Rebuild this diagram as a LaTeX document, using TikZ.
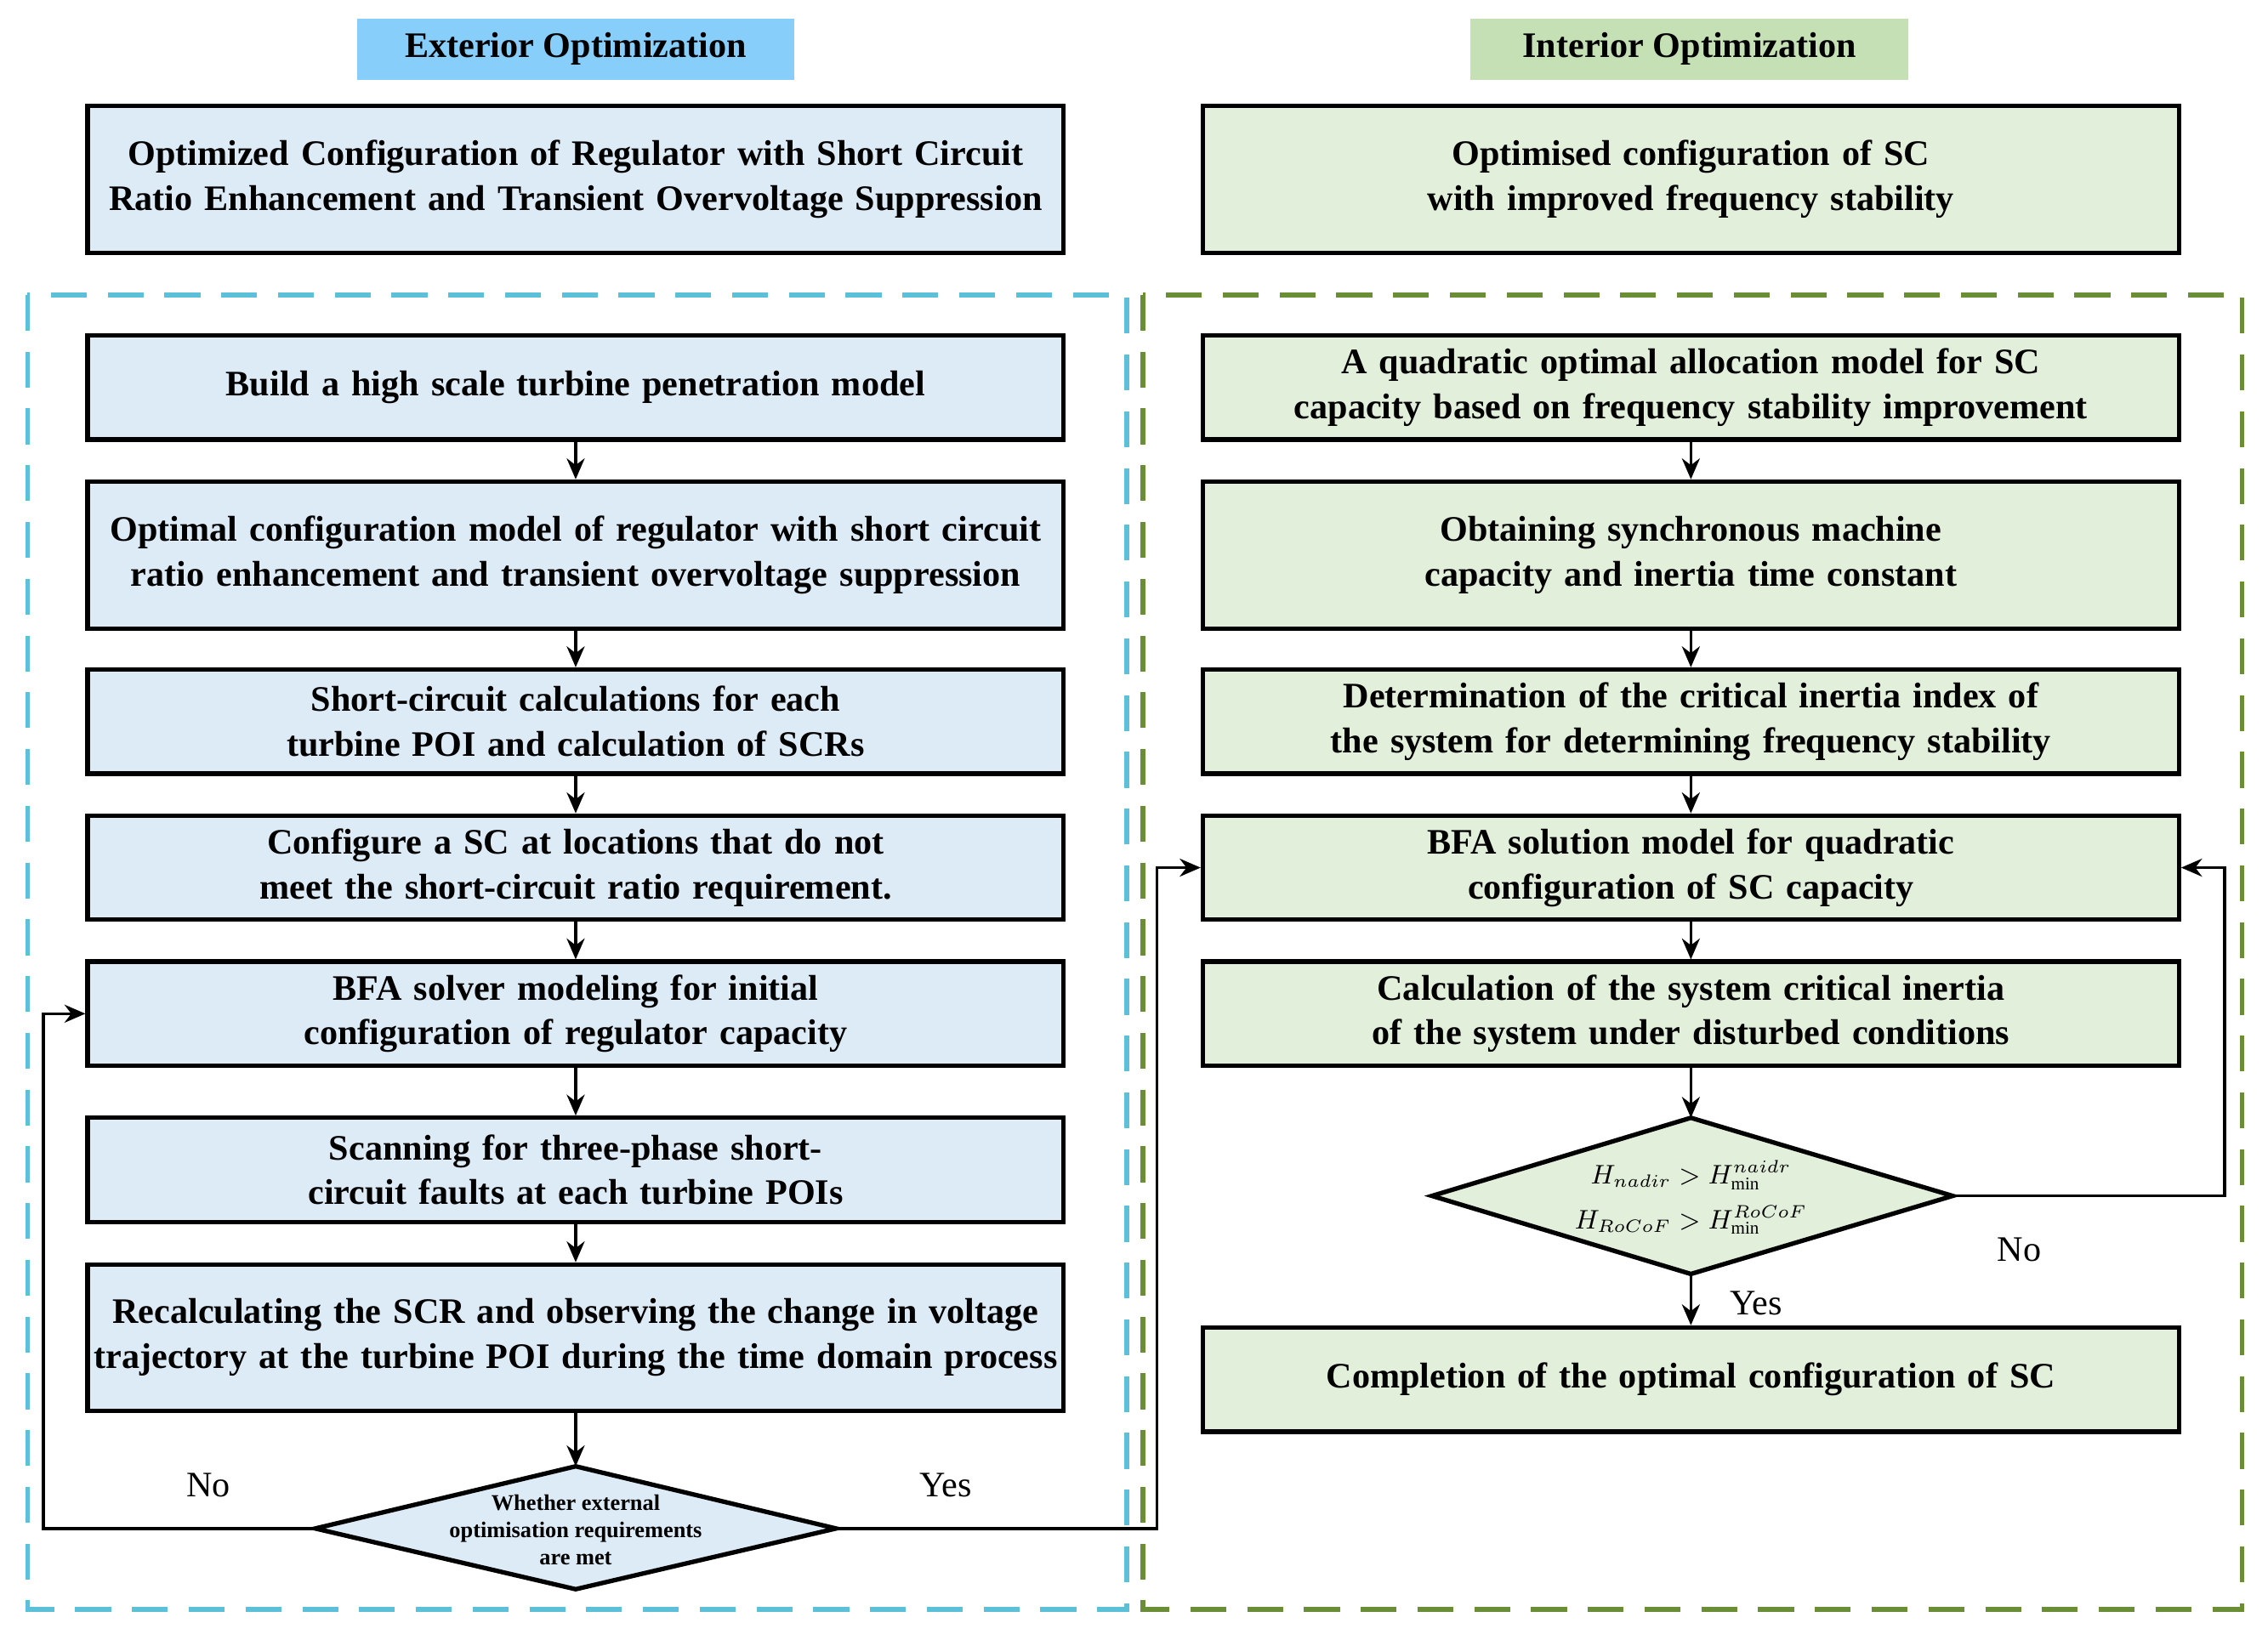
\documentclass[tikz,border=0pt]{standalone}
\usepackage{fontspec}
\setmainfont{Liberation Serif}
\usetikzlibrary{shapes.geometric,arrows.meta}
\definecolor{hdrblue}{HTML}{87CEFA}
\definecolor{boxblue}{HTML}{DDEBF7}
\definecolor{hdrgreen}{HTML}{C5E0B4}
\definecolor{boxgreen}{HTML}{E2EFDA}
\definecolor{dashblue}{HTML}{5BC0D8}
\definecolor{dashgreen}{HTML}{6A8E35}
\tikzset{stage/.style={draw, line width=1.5pt, minimum width=11.48cm, text width=11.35cm, align=center, inner sep=1pt, font=\fontsize{12}{15}\selectfont\bfseries, execute at begin node={\hyphenpenalty=10000\exhyphenpenalty=0}}}
\tikzset{lbox/.style={stage, fill=boxblue}}
\tikzset{rbox/.style={stage, fill=boxgreen}}
\tikzset{hdr/.style={minimum width=5.15cm, minimum height=0.72cm, font=\fontsize{12}{15}\selectfont\bfseries}}
\tikzset{decide/.style={draw, line width=1.5pt}}
\tikzset{flow/.style={-{Stealth[length=7pt,width=6pt]}, line width=1pt}}
\tikzset{zone/.style={dashed, dash pattern=on 12pt off 7pt, line width=1.6pt}}
\tikzset{lbl/.style={font=\fontsize{12}{15}\selectfont}}
\begin{document}
\begin{tikzpicture}[x=0.01701cm,y=-0.01701cm]
\useasboundingbox (0,0) rectangle (1568,1134);
% headers
\node[hdr, fill=hdrblue] (hl) at (398,34) {Exterior Optimization};
\node[hdr, fill=hdrgreen] (hr) at (1168,34) {Interior Optimization};
\node[lbox, minimum height=1.735cm] (tl) at (398,124) {Optimized Configuration of Regulator with Short Circuit Ratio Enhancement and Transient Overvoltage Suppression};
\node[rbox, minimum height=1.735cm] (tr) at (1169,124) {Optimised configuration of SC with improved frequency stability};
% dashed zones
\draw[zone, dashblue] (19,204) rectangle (779,1113);
\draw[zone, dashgreen] (790,204) rectangle (1550,1113);

% exterior column
\node[lbox, minimum height=1.225cm] (l1) at (398,268) {Build a high scale turbine penetration model};
\node[lbox, minimum height=1.735cm] (l2) at (398,384) {Optimal configuration model of regulator with short circuit ratio enhancement and transient overvoltage suppression};
\node[lbox, minimum height=1.225cm] (l3) at (398,499) {Short-circuit calculations for each turbine POI and calculation of SCRs};
\node[lbox, minimum height=1.225cm] (l4) at (398,600) {Configure a SC at locations that do not meet the short-circuit ratio requirement.};
\node[lbox, minimum height=1.225cm] (l5) at (398,701) {BFA solver modeling for initial configuration of regulator capacity};
\node[lbox, minimum height=1.225cm] (l6) at (398,809) {Scanning for three-phase short-circuit faults at each turbine POIs};
\node[lbox, minimum height=1.72cm] (l7) at (398,925) {Recalculating the SCR and observing the change in voltage trajectory at the turbine POI during the time domain process};
% exterior decision
\coordinate (ldW) at (218,1057);
\coordinate (ldN) at (398,1014);
\coordinate (ldE) at (578,1057);
\coordinate (ldS) at (398,1099);
\draw[decide, fill=boxblue] (ldW) -- (ldN) -- (ldE) -- (ldS) -- cycle;
\node[align=center, font=\fontsize{7.5}{9}\selectfont\bfseries] (ld) at (398,1058) {Whether external\\optimisation requirements\\are met};

% interior column
\node[rbox, minimum height=1.225cm] (r1) at (1169,268) {A quadratic optimal allocation model for SC capacity based on frequency stability improvement};
\node[rbox, minimum height=1.735cm] (r2) at (1169,384) {Obtaining synchronous machine capacity and inertia time constant};
\node[rbox, minimum height=1.225cm] (r3) at (1169,499) {Determination of the critical inertia index of the system for determining frequency stability};
\node[rbox, minimum height=1.225cm] (r4) at (1169,600) {BFA solution model for quadratic configuration of SC capacity};
\node[rbox, minimum height=1.225cm] (r5) at (1169,701) {Calculation of the system critical inertia of the system under disturbed conditions};
% interior decision
\coordinate (rdW) at (990,827);
\coordinate (rdN) at (1169,773);
\coordinate (rdE) at (1350,827);
\coordinate (rdS) at (1169,881);
\draw[decide, fill=boxgreen] (rdW) -- (rdN) -- (rdE) -- (rdS) -- cycle;
\node[align=center, font=\small] (rd) at (1169,828) {$H_{nadir} > H_{\min}^{naidr}$\\[4pt]$H_{RoCoF} > H_{\min}^{RoCoF}$};
\node[rbox, minimum height=1.225cm] (r6) at (1169,954) {Completion of the optimal configuration of SC};

% connectors
\foreach \a/\b in {l1/l2,l2/l3,l3/l4,l4/l5,l5/l6,l6/l7,r1/r2,r2/r3,r3/r4,r4/r5}
  \draw[flow] (\a) -- (\b);
\draw[flow] (l7) -- (ldN);
\draw[flow] (r5) -- (rdN);
\draw[flow] (rdS) -- (r6);
\draw[flow] (ldW) -- (30,1057) |- (l5.west);
\draw[flow] (ldE) -- (800,1057) |- (r4.west);
\draw[flow] (rdE) -- (1538,827) |- (r4.east);
\node[lbl] at (144,1027) {No};
\node[lbl] at (654,1027) {Yes};
\node[lbl] at (1396,864) {No};
\node[lbl] at (1214,901) {Yes};
\end{tikzpicture}
\end{document}
